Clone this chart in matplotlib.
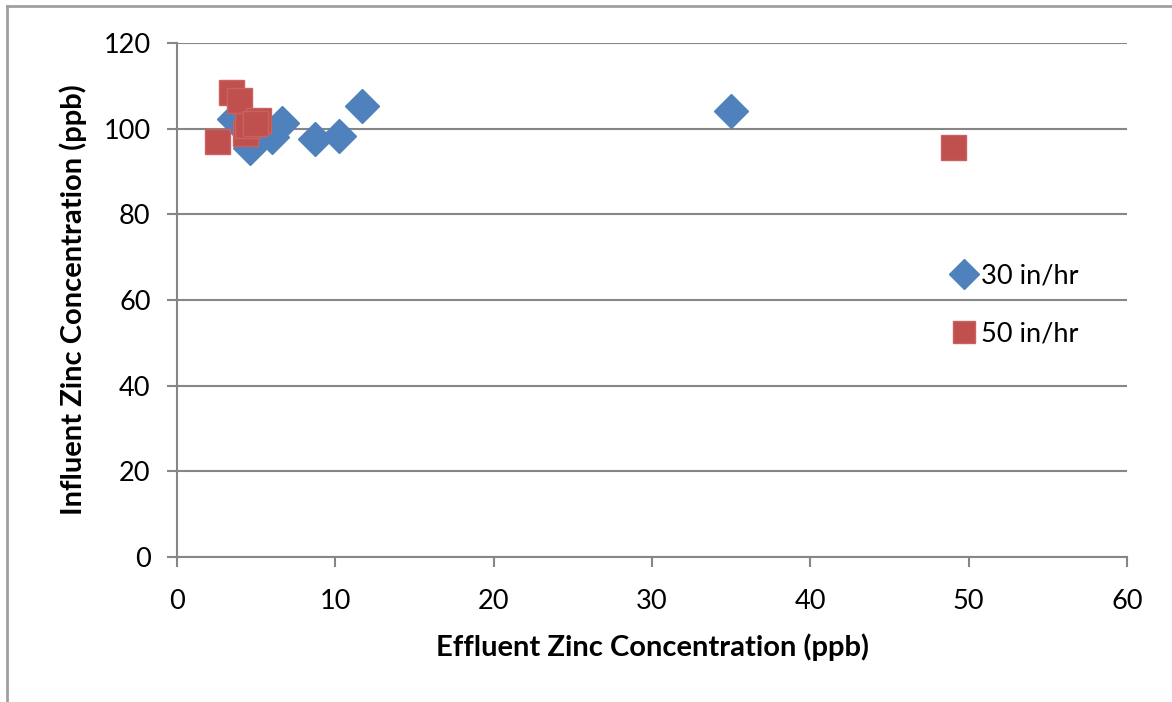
import matplotlib.pyplot as plt
from matplotlib.lines import Line2D

# data (effluent, influent) in ppb
x_30 = [11.7, 8.7, 10.2, 6.6, 6.0, 4.6, 3.6, 35.0]
y_30 = [105.3, 97.6, 98.3, 101.3, 98.0, 95.4, 102.2, 104.1]

x_50 = [3.4, 3.9, 2.5, 4.3, 5.1, 4.4, 4.9, 49.0]
y_50 = [108.6, 106.7, 97.1, 99.1, 102.0, 100.9, 101.4, 95.7]

series_labels = ["30 in/hr", "50 in/hr"]
x_ticks = [0, 10, 20, 30, 40, 50, 60]
y_ticks = [0, 20, 40, 60, 80, 100, 120]

blue = "#4F81BD"
red = "#C0504D"
gray = "#868686"

plt.rcParams["font.family"] = ["Lato", "DejaVu Sans"]

fig = plt.figure(figsize=(11.72, 7.02), dpi=100)
ax = fig.add_axes([177 / 1172, 1 - 557 / 702, 950 / 1172, 514 / 702])

# outer chart border (top and left visible)
fig.add_artist(Line2D([7 / 1172, 7 / 1172], [0, 1 - 6 / 702], transform=fig.transFigure,
                      color="#a0a0a0", lw=2))
fig.add_artist(Line2D([7 / 1172, 1], [1 - 6 / 702, 1 - 6 / 702], transform=fig.transFigure,
                      color="#a0a0a0", lw=2))

ax.plot(x_30, y_30, "D", ms=17, color=blue, mec=blue, label=series_labels[0], zorder=3)
ax.plot(x_50, y_50, "s", ms=18, color=red, mec="#c96260", mew=1, label=series_labels[1], zorder=4)

ax.set_xlim(0, 60)
ax.set_ylim(0, 120)
ax.set_xticks(x_ticks)
ax.set_yticks(y_ticks)
ax.yaxis.grid(True, color=gray, lw=1.5)
ax.set_axisbelow(True)

for side in ["top", "right"]:
    ax.spines[side].set_visible(False)
for side in ["left", "bottom"]:
    ax.spines[side].set_color(gray)
    ax.spines[side].set_linewidth(1.5)

ax.tick_params(axis="both", direction="out", length=7, width=1.5, color=gray,
               labelsize=19.5, labelcolor="black")
ax.tick_params(axis="x", pad=16)
ax.tick_params(axis="y", pad=12)

ax.set_xlabel("Effluent Zinc Concentration (ppb)", fontsize=21, fontweight="bold", labelpad=14)
ax.set_ylabel("Influent Zinc Concentration (ppb)", fontsize=21, fontweight="bold", labelpad=12)

ax.legend(loc="upper left", bbox_to_anchor=(0.791, 0.618), frameon=False, fontsize=19.5,
          handlelength=0.85, handletextpad=0.2, labelspacing=1.2, markerscale=0.88)

fig.savefig("out.png", dpi=100)
